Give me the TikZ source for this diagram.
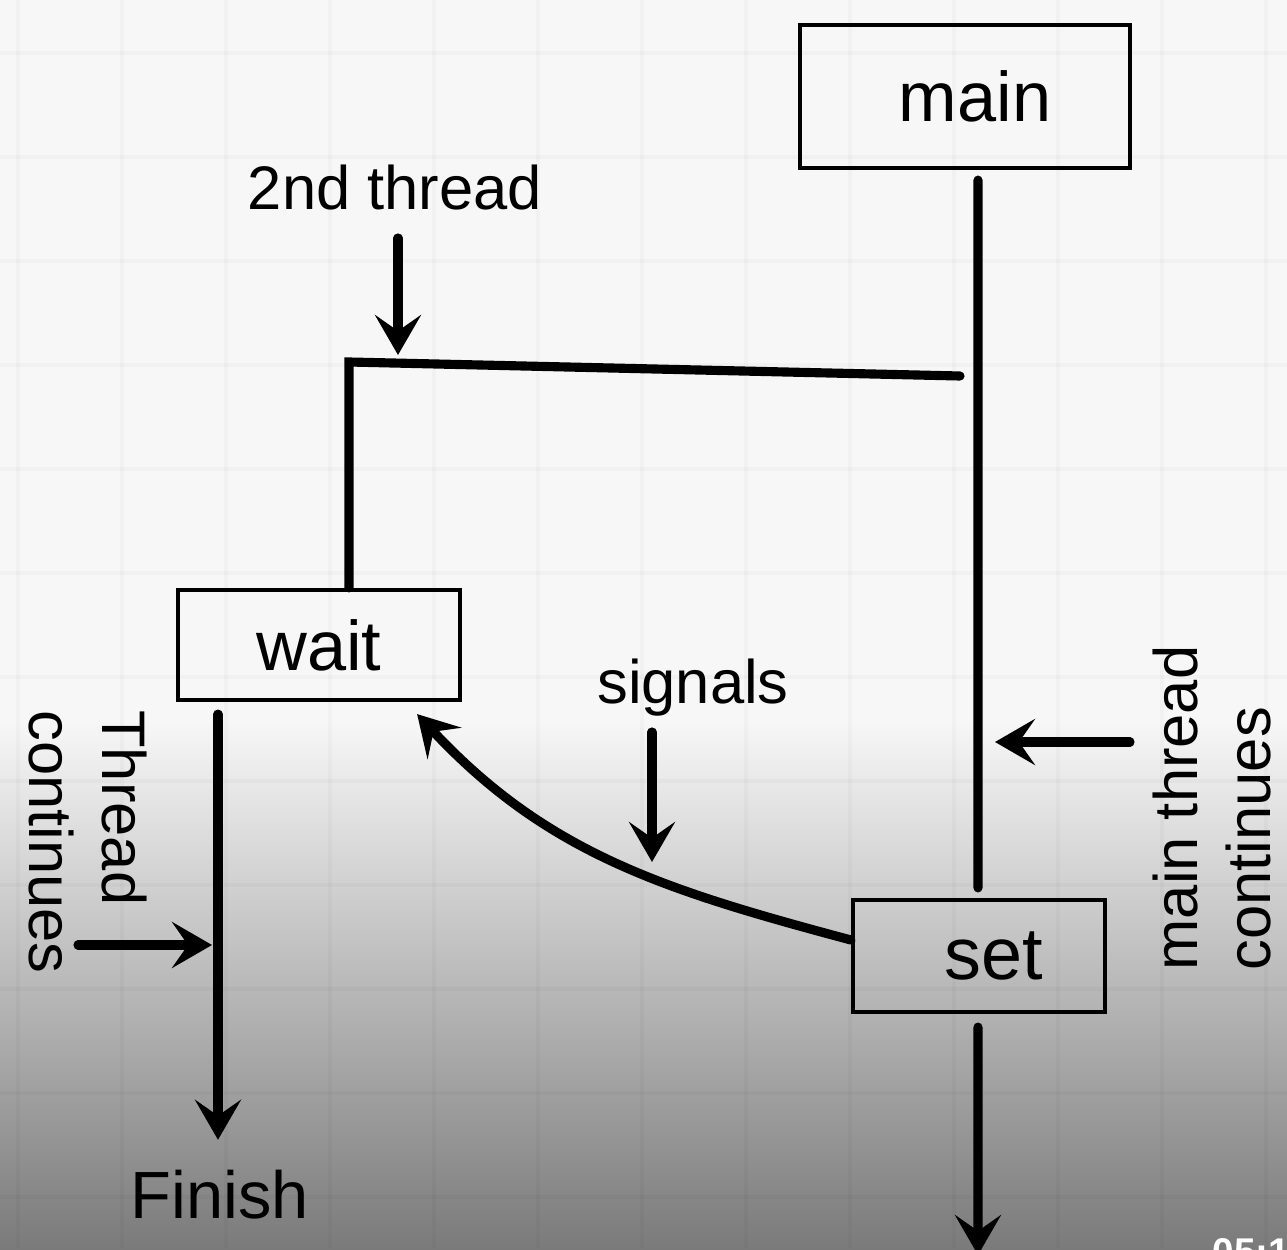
\documentclass[tikz,border=0pt]{standalone}
\usepackage{fontspec}
\setmainfont{Liberation Sans}
\usetikzlibrary{positioning}
\usetikzlibrary{arrows.meta}

\begin{document}
\begin{tikzpicture}[
  box/.style={rectangle, draw, line width=1.2pt, inner sep=0pt},
  lbl/.style={font=\fontsize{17.5}{21}\selectfont, inner sep=0pt},
  flow/.style={line width=2.6pt, line cap=round},
  tip/.style={flow, -{Stealth[length=4mm,width=4.6mm,inset=1.6mm]}}]
\useasboundingbox (0,0) rectangle (12.87,12.49);
% paper with grid, darker towards the bottom
\fill[white!97!black] (0,0) rectangle (12.87,12.49);
\shade[top color=white!97!black, bottom color=black!52] (0,0) rectangle (12.87,5.3);
\foreach \gx in {0.18,1.22,...,12.87} \draw[black, opacity=0.025, line width=1.2pt] (\gx,0) -- (\gx,12.49);
\foreach \gy in {0.52,1.56,...,12.49} \draw[black, opacity=0.025, line width=1.2pt] (0,\gy) -- (12.87,\gy);

\node[box, minimum width=3.3cm, minimum height=1.43cm, font=\fontsize{20}{24}\selectfont] (main) at (9.65,11.525) {\hspace{2mm}main};
\node[box, minimum width=2.82cm, minimum height=1.10cm, font=\fontsize{20}{24}\selectfont] (wait) at (3.19,6.04) {wait};
\node[box, minimum width=2.52cm, minimum height=1.12cm, font=\fontsize{21}{25}\selectfont] (set) at (9.79,2.93) {\hspace{3mm}set};

\node[lbl] (second) at (3.95,10.61) {2nd thread};
\node[lbl] (signals) at (6.93,5.61) {signals};
\node[lbl, rotate=90, align=left] (maincont) at (12.12,4.41) {main thread\\continues};
\node[lbl, rotate=-90, align=left] (threadcont) at (0.88,4.07) {Thread\\continues};
\node[font=\fontsize{19}{23}\selectfont, inner sep=0pt] (finish) at (2.20,0.54) {Finish};
\node[anchor=north west, text=white, font=\bfseries\fontsize{11}{13}\selectfont, inner sep=0pt] (clock) at (12.12,0.11) {05:18};

\coordinate (fork) at (3.49,8.87);
\coordinate (spawn) at (9.60,8.73);
\coordinate (secfrom) at (3.98,10.11);
\coordinate (secto) at (3.98,8.94);
\coordinate (sigfrom) at (6.52,5.17);
\coordinate (sigto) at (6.52,3.87);
\coordinate (mainfrom) at (11.30,5.07);
\coordinate (mainto) at (9.95,5.07);
\coordinate (threadfrom) at (0.78,3.04);
\coordinate (threadto) at (2.12,3.04);
\coordinate (waitline) at ([xshift=-1.01cm]wait.south);
\coordinate (mainend) at (9.78,-0.06);

% main thread
\draw[flow] ([xshift=1.3mm,yshift=-1mm]main.south) -- ([xshift=-0.1mm,yshift=1mm]set.north);
\draw[tip] ([xshift=-0.1mm,yshift=-1.3mm]set.south) -- (mainend);
% second thread
\draw[flow] (spawn) -- (fork) -- (fork |- wait.north);
\draw[tip, shorten >=3mm] ([yshift=-1.2mm]waitline) -- (waitline |- finish.north);
% signal back to wait
\draw[tip] ([yshift=1.6mm]set.west) to[out=165,in=-47] ([xshift=-4.5mm,yshift=-1.2mm]wait.south east);
% pointers
\draw[tip] (secfrom) -- (secto);
\draw[tip] (sigfrom) -- (sigto);
\draw[tip] (mainfrom) -- (mainto);
\draw[tip] (threadfrom) -- (threadto);
\end{tikzpicture}
\end{document}
